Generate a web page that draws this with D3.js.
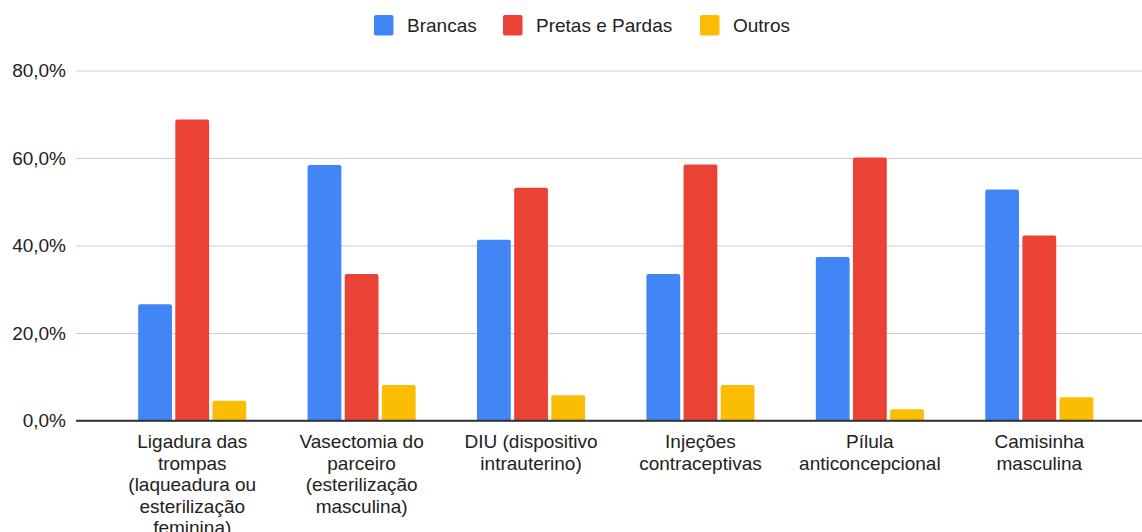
<!DOCTYPE html>
<html>
<head>
<meta charset="utf-8">
<script src="https://cdn.jsdelivr.net/npm/d3@7"></script>
<style>
  html, body { margin: 0; padding: 0; background: #fff; }
  svg { display: block; font-family: "Liberation Sans", Arial, sans-serif; }
</style>
</head>
<body>
<svg id="chart" width="1142" height="532"></svg>
<script>
const categories = [
  "Ligadura das trompas (laqueadura ou esterilização feminina)",
  "Vasectomia do parceiro (esterilização masculina)",
  "DIU (dispositivo intrauterino)",
  "Injeções contraceptivas",
  "Pílula anticoncepcional",
  "Camisinha masculina"
];
const categoryLines = [
  ["Ligadura das", "trompas", "(laqueadura ou", "esterilização", "feminina)"],
  ["Vasectomia do", "parceiro", "(esterilização", "masculina)"],
  ["DIU (dispositivo", "intrauterino)"],
  ["Injeções", "contraceptivas"],
  ["Pílula", "anticoncepcional"],
  ["Camisinha", "masculina"]
];
const seriesNames = ["Brancas", "Pretas e Pardas", "Outros"];
const brancas = [0.266, 0.584, 0.413, 0.335, 0.374, 0.528];
const pretasPardas = [0.688, 0.335, 0.532, 0.585, 0.601, 0.423];
const outros = [0.045, 0.081, 0.058, 0.081, 0.026, 0.053];
const yTicks = [0, 0.2, 0.4, 0.6, 0.8];
const colors = ["#4285F4", "#EA4335", "#FBBC04"];

const FONT = '"Liberation Sans", Arial, sans-serif';
const seriesValues = [brancas, pretasPardas, outros];
const svg = d3.select("#chart");

const x0 = d3.scaleBand().domain(categories).range([107.5, 1124]).paddingInner(0.362).paddingOuter(0.181);
const x1 = d3.scaleBand().domain(seriesNames).range([0, x0.bandwidth()]).paddingInner(0.09);
const y = d3.scaleLinear().domain([0, 0.8]).range([420.5, 70.5]);
const fmt = v => d3.format(".1f")(v * 100).replace(".", ",") + "%";

// gridlines + y labels
const yAxis = d3.axisLeft(y).tickValues(yTicks).tickFormat(fmt).tickSize(0).tickPadding(10);
const yg = svg.append("g").attr("transform", "translate(76,0)").call(yAxis);
yg.select(".domain").remove();
yg.selectAll("text").attr("font-size", 19).attr("fill", "#222").attr("font-family", FONT);
yg.selectAll(".tick").append("line")
  .attr("x1", 0).attr("x2", 1142 - 76)
  .attr("stroke", d => d === 0 ? "#333" : "#ccc")
  .attr("stroke-width", d => d === 0 ? 1.5 : 1);

// bars
const groups = svg.append("g").selectAll("g").data(categories).join("g")
  .attr("transform", d => `translate(${x0(d)},0)`);
groups.selectAll("path").data((d, i) => seriesNames.map((s, k) => ({ s, v: seriesValues[k][i], k })))
  .join("path")
  .attr("fill", d => colors[d.k])
  .attr("d", d => {
    const bx = x1(d.s), bw = x1.bandwidth(), top = y(d.v), bot = y(0) - 0.5, r = 2;
    return `M${bx},${bot}V${top + r}Q${bx},${top} ${bx + r},${top}H${bx + bw - r}Q${bx + bw},${top} ${bx + bw},${top + r}V${bot}Z`;
  });

// redraw baseline on top
svg.append("line").attr("x1", 76).attr("x2", 1142).attr("y1", y(0)).attr("y2", y(0))
  .attr("stroke", "#333").attr("stroke-width", 1.5);

// x axis labels
const xAxis = d3.axisBottom(x0).tickSize(0).tickFormat("");
const xg = svg.append("g").attr("transform", `translate(0,${y(0)})`).call(xAxis);
xg.select(".domain").remove();
xg.selectAll(".tick").each(function (d, i) {
  const t = d3.select(this).append("text")
    .attr("text-anchor", "middle").attr("fill", "#222")
    .attr("font-size", 19).attr("font-family", FONT);
  categoryLines[i].forEach((line, j) => {
    t.append("tspan").attr("x", 0).attr("y", 27.5 + j * 21.5).text(line);
  });
});

// legend
const legendX = [374, 503, 700];
const lg = svg.append("g").selectAll("g").data(seriesNames).join("g")
  .attr("transform", (d, i) => `translate(${legendX[i]},15)`);
lg.append("rect").attr("width", 19.5).attr("height", 20.5).attr("rx", 2).attr("fill", (d, i) => colors[i]);
lg.append("text").attr("x", 33).attr("y", 17).attr("font-size", 19).attr("fill", "#222").attr("font-family", FONT).text(d => d);
</script>
</body>
</html>
